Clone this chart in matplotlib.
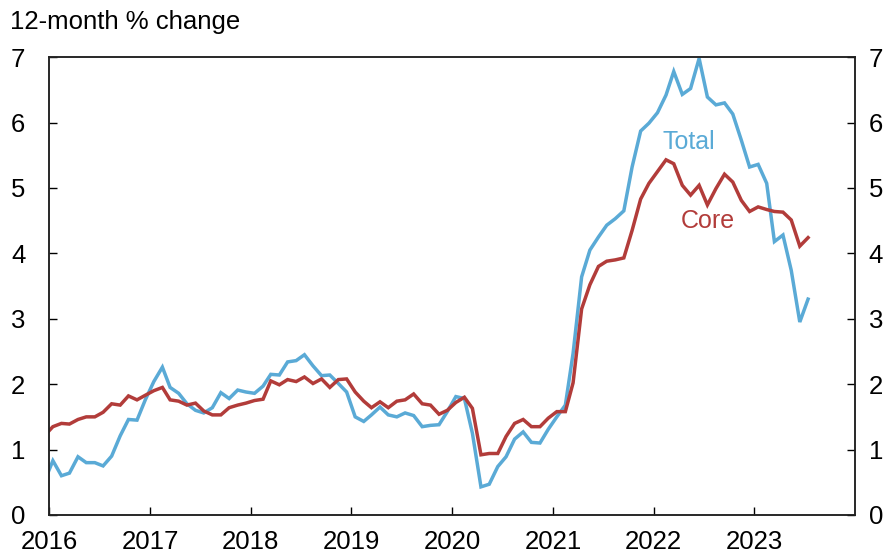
import pandas as pd
import matplotlib
matplotlib.use("Agg")
import matplotlib.pyplot as plt

plt.rcParams['font.family'] = ['Liberation Sans', 'DejaVu Sans']

# 月度数据: 2015-12 ~ 2023-07, 绘制在月中
months = pd.date_range("2015-12-01", "2023-07-01", freq="MS") + pd.Timedelta(days=14)

total = [
    0.51,
    0.83, 0.60, 0.64, 0.89, 0.80, 0.80, 0.75, 0.90, 1.21, 1.46, 1.45, 1.76,
    2.04, 2.26, 1.95, 1.86, 1.70, 1.60, 1.56, 1.64, 1.87, 1.78, 1.91, 1.88,
    1.86, 1.97, 2.15, 2.14, 2.34, 2.36, 2.45, 2.28, 2.13, 2.14, 2.01, 1.88,
    1.50, 1.43, 1.53, 1.65, 1.53, 1.50, 1.56, 1.52, 1.35, 1.37, 1.38, 1.58,
    1.81, 1.78, 1.25, 0.43, 0.47, 0.74, 0.89, 1.16, 1.27, 1.11, 1.10, 1.31,
    1.50, 1.68, 2.47, 3.64, 4.05, 4.25, 4.43, 4.53, 4.65, 5.32, 5.87, 5.99,
    6.15, 6.42, 6.78, 6.43, 6.52, 6.98, 6.39, 6.27, 6.30, 6.13, 5.73, 5.32,
    5.36, 5.07, 4.18, 4.28, 3.74, 2.95, 3.30,
]

core = [
    1.21,
    1.35, 1.40, 1.39, 1.46, 1.50, 1.50, 1.57, 1.70, 1.68, 1.82, 1.76, 1.83,
    1.90, 1.95, 1.76, 1.74, 1.68, 1.71, 1.59, 1.53, 1.53, 1.64, 1.68, 1.71,
    1.75, 1.77, 2.05, 1.99, 2.07, 2.04, 2.11, 2.01, 2.08, 1.95, 2.07, 2.08,
    1.88, 1.74, 1.64, 1.73, 1.64, 1.74, 1.76, 1.85, 1.70, 1.68, 1.54, 1.60,
    1.72, 1.80, 1.63, 0.92, 0.94, 0.94, 1.20, 1.40, 1.46, 1.35, 1.35, 1.48,
    1.58, 1.58, 2.02, 3.15, 3.52, 3.80, 3.88, 3.90, 3.93, 4.35, 4.83, 5.07,
    5.25, 5.43, 5.37, 5.04, 4.89, 5.04, 4.74, 4.99, 5.21, 5.09, 4.81, 4.64,
    4.71, 4.67, 4.64, 4.63, 4.51, 4.11, 4.24,
]

years = list(range(2016, 2024))
y_ticks = list(range(0, 8))

blue = '#5aaad6'
red = '#b23c3a'
fs = 18.5

fig = plt.figure(figsize=(8.93, 5.6), dpi=100)
ax = fig.add_axes([0.0549, 0.0804, 0.9025, 0.8176])

ax.plot(months, total, color=blue, lw=2.5, solid_joinstyle='miter')
ax.plot(months, core, color=red, lw=2.5, solid_joinstyle='miter')

ax.set_xlim(pd.Timestamp("2016-01-01"), pd.Timestamp("2024-01-01"))
ax.set_ylim(0, 7)
ax.set_xticks([pd.Timestamp(f"{y}-01-01") for y in years])
ax.set_xticklabels([str(y) for y in years])
ax.set_yticks(y_ticks)

ax.tick_params(axis='x', direction='in', length=6, width=1, labelsize=fs, pad=11)
ax.tick_params(axis='y', direction='in', length=6, width=1, labelsize=fs, pad=17)

# 右侧坐标
ax2 = ax.twinx()
ax2.set_ylim(0, 7)
ax2.set_yticks(y_ticks)
ax2.tick_params(axis='y', direction='in', length=6, width=1, labelsize=fs, pad=10)

for a in (ax, ax2):
    for s in a.spines.values():
        s.set_linewidth(1.1)
        s.set_color('#222222')

ax.text(pd.Timestamp("2022-05-10"), 5.7, "Total", color=blue, fontsize=18,
        ha='center', va='center')
ax.text(pd.Timestamp("2022-07-15"), 4.5, "Core", color=red, fontsize=18,
        ha='center', va='center')

fig.text(0.011, 0.961, "12-month % change", fontsize=fs, ha='left', va='center')

plt.savefig("out.png", dpi=100)
plt.close()
